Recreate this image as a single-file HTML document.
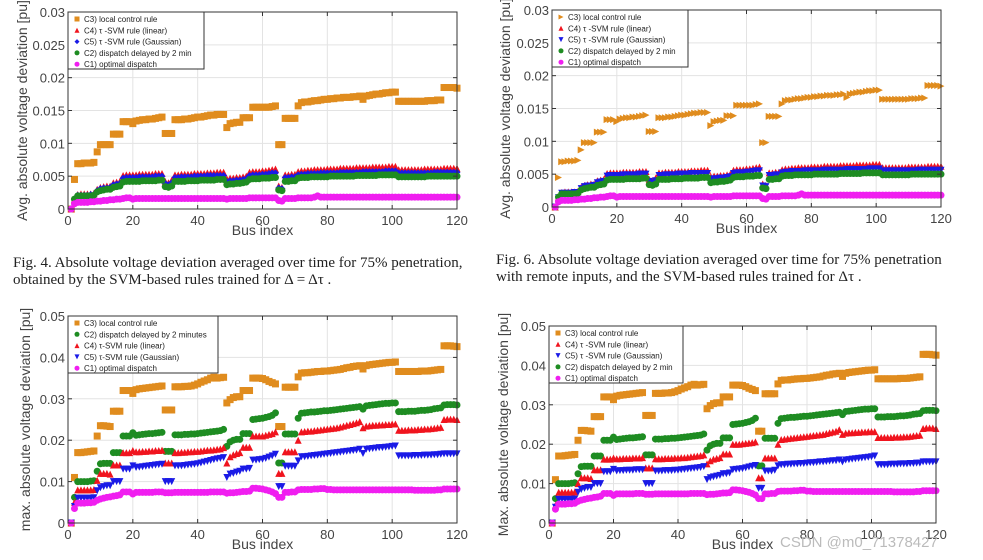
<!DOCTYPE html>
<html><head><meta charset="utf-8">
<style>
html,body{margin:0;padding:0;background:#fff;}
svg{display:block;font-family:"Liberation Sans",sans-serif;}
.tick{font-size:13px;fill:#444;}
.ax{font-size:14px;fill:#444;}
.leg{font-size:8px;fill:#222;}
.cap{font-family:"Liberation Serif",serif;font-size:15px;fill:#222;}
</style></head>
<body>
<svg id="root" width="983" height="560" viewBox="0 0 983 560"></svg>
<script>
// Bus indices 1..120
const buses = [];
for (let i = 1; i <= 120; i++) buses.push(i);

// ---- Average deviation (x1e-4 pu) ----
const avgC3 = [0,45,69,69,70,70,70,71,87,98,98,98,98,114,114,114,133,133,133,130,134,135,136,136,137,137,138,139,140,115,115,115,136,136,136,137,137,138,139,140,140,141,142,143,143,144,144,144,124,130,131,132,132,139,139,139,155,155,155,155,155,155,156,157,98,98,138,138,138,138,157,162,163,163,164,165,165,166,167,167,168,168,169,169,170,170,170,171,171,172,167,172,173,174,175,175,176,177,177,178,178,164,164,164,164,164,164,164,164,164,165,165,165,166,166,185,185,185,185,184];
const avgC4 = [0,15,22,23,23,23,23,24,30,33,34,35,35,40,41,42,51,52,52,52,52,53,53,53,53,53,54,54,54,42,40,44,52,52,53,53,53,53,54,54,54,54,55,55,55,56,56,56,46,47,47,48,48,49,50,56,57,57,57,58,58,59,60,61,35,33,52,52,53,53,57,58,58,59,59,60,60,60,60,61,61,61,61,62,62,62,62,62,63,63,63,63,63,64,64,64,64,64,65,65,65,60,60,60,60,60,60,60,60,61,61,61,61,61,61,62,62,62,62,62];
const avgC5 = [0,14,21,21,21,21,22,22,28,31,32,32,33,37,38,39,47,48,48,48,48,49,49,49,49,49,50,50,50,39,37,40,48,48,49,49,49,49,50,50,50,50,51,51,51,51,51,51,42,43,43,44,44,45,46,51,52,52,52,53,53,54,55,55,32,31,48,48,49,49,52,53,53,54,54,54,54,55,55,55,55,55,55,56,56,56,56,56,56,56,57,57,57,57,57,57,57,58,58,58,58,55,55,55,55,55,55,55,55,55,55,55,56,56,56,56,56,56,56,56];
const avgC2 = [0,15,20,20,20,20,20,21,26,28,29,30,30,33,34,35,41,42,42,42,42,42,43,43,43,43,43,44,44,34,33,35,42,42,42,42,43,43,43,43,44,44,44,44,44,45,45,45,37,38,38,39,39,40,41,45,46,46,46,47,47,47,48,48,29,28,42,42,43,43,47,48,48,48,49,49,49,49,49,49,50,50,50,50,50,50,50,50,51,51,51,51,51,51,51,52,52,52,52,52,52,49,49,49,49,49,49,49,49,49,50,50,50,50,50,50,50,50,50,50];
const avgC1 = [0,8,10,10,10,10,11,11,12,12,13,13,14,14,15,15,16,17,17,15,16,16,16,16,16,16,16,16,16,16,16,16,16,16,16,16,16,16,16,16,16,16,16,16,16,16,16,16,15,16,16,16,16,16,16,17,17,17,17,17,17,17,17,17,13,12,16,16,16,16,17,17,17,17,17,18,20,18,18,18,18,18,18,18,18,18,18,18,18,18,18,18,18,18,18,18,18,18,18,18,18,18,18,18,18,18,18,18,18,18,18,18,18,18,18,18,18,18,18,18];

// ---- Max deviation (x1e-4 pu) ----
const maxC3 = [0,110,170,170,171,172,173,174,210,235,235,234,233,270,270,270,320,320,320,313,322,324,325,326,327,328,329,330,331,273,273,273,329,329,329,330,330,331,333,336,340,343,346,350,352,350,351,352,290,298,303,305,305,320,320,320,350,350,350,349,346,342,339,336,233,233,328,328,328,328,353,362,363,363,364,365,366,366,367,367,368,369,370,371,373,375,376,378,379,380,372,380,382,383,384,385,386,387,388,388,389,366,366,366,366,366,366,366,367,367,367,368,369,370,371,428,428,428,427,426];
const maxC2 = [0,62,100,100,100,100,101,102,125,143,144,144,144,170,170,170,210,210,210,218,212,213,214,215,216,216,217,218,219,173,173,173,213,213,213,214,214,215,215,216,217,218,219,220,221,222,223,226,185,196,200,202,202,216,216,216,250,251,252,253,255,257,260,266,145,145,215,215,215,215,253,265,266,267,268,268,269,270,271,271,272,273,274,275,276,277,278,279,280,281,275,283,284,285,286,287,288,289,289,290,290,269,269,269,270,270,270,271,272,272,273,274,276,277,278,285,286,286,286,285];
const maxC4 = [0,50,80,80,80,80,80,81,103,120,120,120,118,140,140,140,170,170,170,175,172,172,173,173,174,174,175,175,176,145,145,145,170,170,171,171,172,172,173,173,174,175,176,176,177,178,179,182,145,160,165,168,170,183,183,183,210,210,210,210,212,214,216,220,120,120,172,172,172,172,200,220,221,222,222,223,224,225,226,227,228,229,230,232,234,236,238,240,242,245,230,234,235,236,236,237,237,238,238,239,239,224,224,224,225,225,225,226,226,227,227,228,229,230,231,250,251,251,251,250];
const maxC5 = [0,40,60,60,60,60,60,61,78,85,88,90,90,100,100,100,130,130,130,138,134,135,136,137,138,139,140,141,142,100,100,100,138,138,138,139,140,141,142,143,145,147,149,151,153,155,156,158,110,118,120,123,125,130,130,132,152,152,153,154,156,159,162,166,88,88,137,137,137,137,150,160,160,161,162,163,164,165,166,167,168,169,170,171,172,173,174,175,176,178,168,178,179,180,181,182,182,183,184,185,186,162,162,162,162,162,163,163,163,164,164,164,165,165,166,167,167,167,167,167];
const maxC1 = [0,35,48,48,48,49,49,50,55,58,60,62,63,65,66,68,75,75,75,70,74,74,74,74,74,74,75,75,75,73,73,73,74,74,74,74,74,74,74,74,74,74,74,75,75,75,75,75,72,73,73,74,75,76,76,77,84,84,83,82,80,78,75,71,62,62,74,74,75,75,80,81,81,81,81,82,82,83,83,81,81,80,80,80,80,80,80,80,80,80,80,80,80,80,80,80,80,80,80,80,80,80,80,80,80,80,79,79,79,79,79,79,79,80,80,82,82,82,82,82];
const maxC5b = [0,40,60,60,60,60,60,61,78,85,88,90,90,100,100,100,130,130,130,136,132,133,133,134,134,134,135,135,135,100,100,100,132,132,132,133,133,133,134,134,135,136,137,138,139,140,141,143,110,115,117,119,121,125,125,127,135,136,137,138,140,142,144,146,88,88,132,132,132,134,145,148,148,149,149,150,150,151,151,152,153,153,154,155,155,156,157,158,158,160,155,160,161,162,163,164,165,166,167,168,170,148,148,148,148,149,149,149,150,150,150,151,151,152,152,155,155,155,155,155];
const maxC4b = [0,45,78,78,78,78,78,79,100,115,115,115,113,135,135,135,162,162,162,165,163,163,164,164,164,165,165,165,166,140,140,140,163,163,163,164,164,164,165,165,166,166,167,168,169,170,171,173,150,158,162,164,166,175,175,175,200,200,200,201,202,203,204,206,115,115,165,165,165,165,200,212,213,214,215,216,217,218,219,220,221,222,223,224,225,227,229,231,233,237,225,228,229,229,230,230,231,231,232,232,232,217,217,217,217,217,218,218,218,219,219,220,221,222,223,240,241,241,241,240];

const yTicksAvg = ["0","0.005","0.01","0.015","0.02","0.025","0.03"];
const yTickValsAvg = [0,0.005,0.01,0.015,0.02,0.025,0.03];
const yTicksMax = ["0","0.01","0.02","0.03","0.04","0.05"];
const yTickValsMax = [0,0.01,0.02,0.03,0.04,0.05];
const xTicks = [0,20,40,60,80,100,120];

const NS = "http://www.w3.org/2000/svg";
const root = document.getElementById('root');
const COL = {C3:'#e08c1e',C4:'#f0141e',C5:'#1a1ae6',C2:'#1e8c22',C1:'#f01ef0'};

function el(tag, attrs, parent){
  const e = document.createElementNS(NS, tag);
  for (const k in attrs) e.setAttribute(k, attrs[k]);
  (parent||root).appendChild(e);
  return e;
}

function marker(g, type, cx, cy, color, s){
  let m;
  if (type==='sq') m = el('rect',{x:cx-s/2,y:cy-s/2,width:s,height:s,fill:color},g);
  else if (type==='ci') m = el('circle',{cx:cx,cy:cy,r:s/2,fill:color},g);
  else if (type==='tu') m = el('polygon',{points:`${cx},${cy-s/2} ${cx+s/2},${cy+s/2} ${cx-s/2},${cy+s/2}`,fill:color},g);
  else if (type==='td') m = el('polygon',{points:`${cx-s/2},${cy-s/2} ${cx+s/2},${cy-s/2} ${cx},${cy+s/2}`,fill:color},g);
  else if (type==='tr') m = el('polygon',{points:`${cx-s/2},${cy-s/2} ${cx+s/2},${cy} ${cx-s/2},${cy+s/2}`,fill:color},g);
  else if (type==='di') m = el('polygon',{points:`${cx},${cy-s/2} ${cx+s/2},${cy} ${cx},${cy+s/2} ${cx-s/2},${cy}`,fill:color},g);
  return m;
}

function chart(cfg){
  const g = el('g',{});
  
  
  const {x0,x1,yTop,yBot,ymax} = cfg;
  const sx = v => x0 + (v/120)*(x1-x0);
  const sy = v => yBot - (v/ymax)*(yBot-yTop);
  const grid = el('g',{},g);
  
  
  xTicks.forEach(t=>{ if(t>0&&t<120) el('line',{x1:sx(t),x2:sx(t),y1:yTop,y2:yBot,stroke:'#e3e3e3','stroke-width':1},grid); });
  cfg.yv.forEach(t=>{ if(t>0&&t<ymax) el('line',{x1:x0,x2:x1,y1:sy(t),y2:sy(t),stroke:'#e3e3e3','stroke-width':1},grid); });
  cfg.series.forEach(s=>{
    const sg = el('g',{},g);
    
    
    s.data.forEach((v,i)=>{
      const m = marker(sg, s.m, sx(buses[i]), sy(v*1e-4), COL[s.key], 7);
      
      
    });
  });
  const fr = el('rect',{x:x0,y:yTop,width:x1-x0,height:yBot-yTop,fill:'none',stroke:'#333','stroke-width':1},g);
  
  
  xTicks.forEach(t=>{
    el('line',{x1:sx(t),x2:sx(t),y1:yBot,y2:yBot-4,stroke:'#333'},g);
    el('line',{x1:sx(t),x2:sx(t),y1:yTop,y2:yTop+4,stroke:'#333'},g);
    const tx = el('text',{x:sx(t),y:yBot+16,'text-anchor':'middle',class:'tick'},g);
    tx.textContent = t;
    
    
  });
  cfg.yv.forEach((t,i)=>{
    el('line',{x1:x0,x2:x0+4,y1:sy(t),y2:sy(t),stroke:'#333'},g);
    el('line',{x1:x1,x2:x1-4,y1:sy(t),y2:sy(t),stroke:'#333'},g);
    const ty = el('text',{x:x0-3,y:sy(t)+5,'text-anchor':'end',class:'tick'},g);
    ty.textContent = cfg.yl[i];
    
    
  });
  const xt = el('text',{x:(x0+x1)/2,y:yBot+26,'text-anchor':'middle',class:'ax'},g);
  xt.textContent = 'Bus index';
  
  
  const yt = el('text',{x:0,y:0,'text-anchor':'middle',class:'ax',transform:`translate(${cfg.ylx},${(yTop+yBot)/2}) rotate(-90)`},g);
  yt.textContent = cfg.ytitle;
  
  
  const lg = el('g',{},g);
  
  
  el('rect',{x:x0,y:yTop,width:cfg.legW,height:57,fill:'#fff',stroke:'#333','stroke-width':1},lg);
  cfg.legend.forEach((L,i)=>{
    const ly = yTop + 7 + i*11.3;
    marker(lg, L.m, x0+9, ly, COL[L.key], 5);
    const t = el('text',{x:x0+16,y:ly+3,class:'leg'},lg);
    t.textContent = L.text;
    
    
  });
}

chart({name:'chart-fig4',x0:68,x1:457,yTop:12,yBot:209,ymax:0.03,yv:yTickValsAvg,yl:yTicksAvg,ylx:27,
  ytitle:'Avg. absolute voltage deviation [pu]',legW:136,
  series:[{key:'C3',m:'sq',data:avgC3},{key:'C4',m:'tu',data:avgC4},{key:'C5',m:'di',data:avgC5},{key:'C2',m:'ci',data:avgC2},{key:'C1',m:'ci',data:avgC1}],
  legend:[{key:'C3',m:'sq',text:'C3) local control rule'},{key:'C4',m:'tu',text:'C4) τ -SVM rule (linear)'},{key:'C5',m:'di',text:'C5) τ -SVM rule (Gaussian)'},{key:'C2',m:'ci',text:'C2) dispatch delayed by 2 min'},{key:'C1',m:'ci',text:'C1) optimal dispatch'}]});

chart({name:'chart-fig6',x0:552,x1:941,yTop:10,yBot:207,ymax:0.03,yv:yTickValsAvg,yl:yTicksAvg,ylx:510,
  ytitle:'Avg. absolute voltage deviation [pu]',legW:136,
  series:[{key:'C3',m:'tr',data:avgC3},{key:'C4',m:'tu',data:avgC4},{key:'C5',m:'td',data:avgC5},{key:'C2',m:'ci',data:avgC2},{key:'C1',m:'ci',data:avgC1}],
  legend:[{key:'C3',m:'tr',text:'C3) local control rule'},{key:'C4',m:'tu',text:'C4) τ -SVM rule (linear)'},{key:'C5',m:'td',text:'C5) τ -SVM rule (Gaussian)'},{key:'C2',m:'ci',text:'C2) dispatch delayed by 2 min'},{key:'C1',m:'ci',text:'C1) optimal dispatch'}]});

chart({name:'chart-max-left',x0:68,x1:457,yTop:316,yBot:523,ymax:0.05,yv:yTickValsMax,yl:yTicksMax,ylx:30,
  ytitle:'max. absolute voltage deviation [pu]',legW:150,
  series:[{key:'C3',m:'sq',data:maxC3},{key:'C2',m:'ci',data:maxC2},{key:'C4',m:'tu',data:maxC4},{key:'C5',m:'td',data:maxC5},{key:'C1',m:'ci',data:maxC1}],
  legend:[{key:'C3',m:'sq',text:'C3) local control rule'},{key:'C2',m:'ci',text:'C2) dispatch delayed by 2 minutes'},{key:'C4',m:'tu',text:'C4) τ-SVM rule (linear)'},{key:'C5',m:'td',text:'C5) τ-SVM rule (Gaussian)'},{key:'C1',m:'ci',text:'C1) optimal dispatch'}]});

chart({name:'chart-max-right',x0:549,x1:936,yTop:326,yBot:523,ymax:0.05,yv:yTickValsMax,yl:yTicksMax,ylx:508,
  ytitle:'Max. absolute voltage deviation [pu]',legW:134,
  series:[{key:'C3',m:'sq',data:maxC3},{key:'C2',m:'ci',data:maxC2},{key:'C4',m:'tu',data:maxC4b},{key:'C5',m:'td',data:maxC5b},{key:'C1',m:'ci',data:maxC1}],
  legend:[{key:'C3',m:'sq',text:'C3) local control rule'},{key:'C4',m:'tu',text:'C4) τ -SVM rule (linear)'},{key:'C5',m:'td',text:'C5) τ -SVM rule (Gaussian)'},{key:'C2',m:'ci',text:'C2) dispatch delayed by 2 min'},{key:'C1',m:'ci',text:'C1) optimal dispatch'}]});

function cap(x,y,txt,name){
  const t = el('text',{x:x,y:y,class:'cap'});
  t.textContent = txt;
  
  
}
cap(13,267,'Fig. 4.    Absolute voltage deviation averaged over time for 75% penetration,','caption-fig4-line1');
cap(13,284,'obtained by the SVM-based rules trained for Δ = Δτ .','caption-fig4-line2');
cap(496,264,'Fig. 6.    Absolute voltage deviation averaged over time for 75% penetration','caption-fig6-line1');
cap(496,281,'with remote inputs, and the SVM-based rules trained for Δτ .','caption-fig6-line2');
const wm = el('text',{x:780,y:547,'font-size':'15px',fill:'#bbb'});
wm.textContent = 'CSDN @m0_71378427';


</script>
</body></html>
